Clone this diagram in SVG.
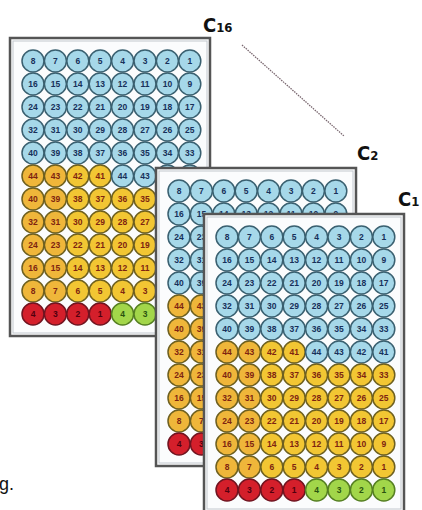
<svg xmlns="http://www.w3.org/2000/svg" xmlns:xlink="http://www.w3.org/1999/xlink" width="422" height="510" viewBox="0 0 422 510">
<style>
.frame{fill:#fbfcfd;stroke:#555;stroke-width:2.5}
.inner{fill:none;stroke:#c3c8ce;stroke-width:1}
.b{fill:#a6d8e9;stroke:#3a6070;stroke-width:1.5}
.y{fill:#f2c633;stroke:#6e6020;stroke-width:1.5}
.yo{fill:#efb63a;stroke:#6e6020;stroke-width:1.5}
.r{fill:#d41f2b;stroke:#701420;stroke-width:1.5}
.g{fill:#a2d64a;stroke:#557f22;stroke-width:1.5}
text.n{font-family:"Liberation Sans",Arial,sans-serif;font-size:8.5px;font-weight:bold;text-anchor:middle}
.tb{fill:#17305a}.ty{fill:#7e2410}.tr{fill:#50000e}.tg{fill:#2a5210}
.lab{font-family:"Liberation Sans Narrow","DejaVu Sans Condensed","Liberation Sans",sans-serif;font-weight:bold;fill:#111}
.conn{stroke:#7a6870;stroke-width:1.3;stroke-dasharray:1.5 1;fill:none}
</style>
<defs>
<g id="rowB">
<circle class="b" cx="23" r="11"/><circle class="b" cx="45.4" r="11"/><circle class="b" cx="67.8" r="11"/><circle class="b" cx="90.2" r="11"/><circle class="b" cx="112.6" r="11"/><circle class="b" cx="135" r="11"/><circle class="b" cx="157.4" r="11"/><circle class="b" cx="179.8" r="11"/>
</g>
<g id="rowY">
<circle class="yo" cx="23" r="11"/><circle class="yo" cx="45.4" r="11"/><circle class="y" cx="67.8" r="11"/><circle class="y" cx="90.2" r="11"/><circle class="y" cx="112.6" r="11"/><circle class="y" cx="135" r="11"/><circle class="y" cx="157.4" r="11"/><circle class="y" cx="179.8" r="11"/>
</g>
<g id="plate">
<rect class="frame" x="0" y="0" width="200" height="298"/>
<rect class="inner" x="3" y="3" width="194" height="292"/>
<g transform="translate(0,23)"><use xlink:href="#rowB"/><g class="tb"><text class="n" x="23" y="3">8</text><text class="n" x="45.4" y="3">7</text><text class="n" x="67.8" y="3">6</text><text class="n" x="90.2" y="3">5</text><text class="n" x="112.6" y="3">4</text><text class="n" x="135" y="3">3</text><text class="n" x="157.4" y="3">2</text><text class="n" x="179.8" y="3">1</text></g></g>
<g transform="translate(0,46)"><use xlink:href="#rowB"/><g class="tb"><text class="n" x="23" y="3">16</text><text class="n" x="45.4" y="3">15</text><text class="n" x="67.8" y="3">14</text><text class="n" x="90.2" y="3">13</text><text class="n" x="112.6" y="3">12</text><text class="n" x="135" y="3">11</text><text class="n" x="157.4" y="3">10</text><text class="n" x="179.8" y="3">9</text></g></g>
<g transform="translate(0,69)"><use xlink:href="#rowB"/><g class="tb"><text class="n" x="23" y="3">24</text><text class="n" x="45.4" y="3">23</text><text class="n" x="67.8" y="3">22</text><text class="n" x="90.2" y="3">21</text><text class="n" x="112.6" y="3">20</text><text class="n" x="135" y="3">19</text><text class="n" x="157.4" y="3">18</text><text class="n" x="179.8" y="3">17</text></g></g>
<g transform="translate(0,92)"><use xlink:href="#rowB"/><g class="tb"><text class="n" x="23" y="3">32</text><text class="n" x="45.4" y="3">31</text><text class="n" x="67.8" y="3">30</text><text class="n" x="90.2" y="3">29</text><text class="n" x="112.6" y="3">28</text><text class="n" x="135" y="3">27</text><text class="n" x="157.4" y="3">26</text><text class="n" x="179.8" y="3">25</text></g></g>
<g transform="translate(0,115)"><use xlink:href="#rowB"/><g class="tb"><text class="n" x="23" y="3">40</text><text class="n" x="45.4" y="3">39</text><text class="n" x="67.8" y="3">38</text><text class="n" x="90.2" y="3">37</text><text class="n" x="112.6" y="3">36</text><text class="n" x="135" y="3">35</text><text class="n" x="157.4" y="3">34</text><text class="n" x="179.8" y="3">33</text></g></g>
<g transform="translate(0,138)">
<circle class="yo" cx="23" r="11"/><circle class="yo" cx="45.4" r="11"/><circle class="y" cx="67.8" r="11"/><circle class="y" cx="90.2" r="11"/><circle class="b" cx="112.6" r="11"/><circle class="b" cx="135" r="11"/><circle class="b" cx="157.4" r="11"/><circle class="b" cx="179.8" r="11"/>
<g class="ty"><text class="n" x="23" y="3">44</text><text class="n" x="45.4" y="3">43</text><text class="n" x="67.8" y="3">42</text><text class="n" x="90.2" y="3">41</text></g>
<g class="tb"><text class="n" x="112.6" y="3">44</text><text class="n" x="135" y="3">43</text><text class="n" x="157.4" y="3">42</text><text class="n" x="179.8" y="3">41</text></g></g>
<g transform="translate(0,161)"><use xlink:href="#rowY"/><g class="ty"><text class="n" x="23" y="3">40</text><text class="n" x="45.4" y="3">39</text><text class="n" x="67.8" y="3">38</text><text class="n" x="90.2" y="3">37</text><text class="n" x="112.6" y="3">36</text><text class="n" x="135" y="3">35</text><text class="n" x="157.4" y="3">34</text><text class="n" x="179.8" y="3">33</text></g></g>
<g transform="translate(0,184)"><use xlink:href="#rowY"/><g class="ty"><text class="n" x="23" y="3">32</text><text class="n" x="45.4" y="3">31</text><text class="n" x="67.8" y="3">30</text><text class="n" x="90.2" y="3">29</text><text class="n" x="112.6" y="3">28</text><text class="n" x="135" y="3">27</text><text class="n" x="157.4" y="3">26</text><text class="n" x="179.8" y="3">25</text></g></g>
<g transform="translate(0,207)"><use xlink:href="#rowY"/><g class="ty"><text class="n" x="23" y="3">24</text><text class="n" x="45.4" y="3">23</text><text class="n" x="67.8" y="3">22</text><text class="n" x="90.2" y="3">21</text><text class="n" x="112.6" y="3">20</text><text class="n" x="135" y="3">19</text><text class="n" x="157.4" y="3">18</text><text class="n" x="179.8" y="3">17</text></g></g>
<g transform="translate(0,230)"><use xlink:href="#rowY"/><g class="ty"><text class="n" x="23" y="3">16</text><text class="n" x="45.4" y="3">15</text><text class="n" x="67.8" y="3">14</text><text class="n" x="90.2" y="3">13</text><text class="n" x="112.6" y="3">12</text><text class="n" x="135" y="3">11</text><text class="n" x="157.4" y="3">10</text><text class="n" x="179.8" y="3">9</text></g></g>
<g transform="translate(0,253)"><use xlink:href="#rowY"/><g class="ty"><text class="n" x="23" y="3">8</text><text class="n" x="45.4" y="3">7</text><text class="n" x="67.8" y="3">6</text><text class="n" x="90.2" y="3">5</text><text class="n" x="112.6" y="3">4</text><text class="n" x="135" y="3">3</text><text class="n" x="157.4" y="3">2</text><text class="n" x="179.8" y="3">1</text></g></g>
<g transform="translate(0,276)">
<circle class="r" cx="23" r="11"/><circle class="r" cx="45.4" r="11"/><circle class="r" cx="67.8" r="11"/><circle class="r" cx="90.2" r="11"/><circle class="g" cx="112.6" r="11"/><circle class="g" cx="135" r="11"/><circle class="g" cx="157.4" r="11"/><circle class="g" cx="179.8" r="11"/>
<g class="tr"><text class="n" x="23" y="3">4</text><text class="n" x="45.4" y="3">3</text><text class="n" x="67.8" y="3">2</text><text class="n" x="90.2" y="3">1</text></g>
<g class="tg"><text class="n" x="112.6" y="3">4</text><text class="n" x="135" y="3">3</text><text class="n" x="157.4" y="3">2</text><text class="n" x="179.8" y="3">1</text></g></g>
</g>
</defs>
<rect width="422" height="510" fill="#ffffff"/>
<g id="plate-c16" transform="translate(10,38)"><use xlink:href="#plate"/></g>
<g id="connectors"><line class="conn" x1="242" y1="45" x2="344" y2="136"/></g>
<g id="plate-c2" transform="translate(156,168)"><use xlink:href="#plate"/></g>
<g id="plate-c1" transform="translate(204,214)"><use xlink:href="#plate"/></g>
<g id="label-c16"><text class="lab" x="203" y="32" font-size="20">C<tspan font-size="13">16</tspan></text></g>
<g id="label-c2"><text class="lab" x="357" y="160" font-size="20">C<tspan font-size="13">2</tspan></text></g>
<g id="label-c1"><text class="lab" x="398" y="206" font-size="20">C<tspan font-size="13">1</tspan></text></g>
<g id="caption-fragment"><text x="-1" y="490" font-family="Liberation Sans, Arial, sans-serif" font-size="18" fill="#111">g.</text></g>
</svg>
